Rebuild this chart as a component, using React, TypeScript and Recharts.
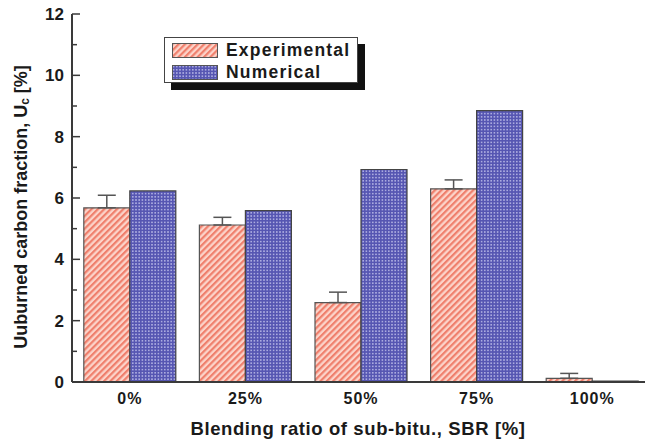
import { Bar, BarChart, ErrorBar, Legend, XAxis, YAxis } from "recharts";

const categories = ["0%", "25%", "50%", "75%", "100%"];
const experimental = [5.68, 5.12, 2.59, 6.3, 0.12];
const experimentalErr = [0.41, 0.25, 0.34, 0.29, 0.16];
const numerical = [6.23, 5.59, 6.93, 8.85, 0.03];
const yTicks = [0, 1, 2, 3, 4, 5, 6, 7, 8, 9, 10, 11, 12];

const data = categories.map((sbr, i) => ({
  sbr,
  exp: experimental[i],
  expErr: [0, experimentalErr[i]],
  num: numerical[i],
}));

const FONT = '"Liberation Sans", Arial, sans-serif';
const INK = "#3a3a3a";
const TEXT = "#1a1a1a";

function YTick(props: any) {
  const { x, y, payload } = props;
  const v = Number(payload.value);
  const major = v % 2 === 0;
  const axisX = x + 8;
  return (
    <g>
      <line x1={axisX} x2={axisX + (major ? 8 : 5)} y1={y} y2={y} stroke={INK} strokeWidth={1.5} />
      {major && (
        <text x={x} y={y} dy="0.36em" textAnchor="end" fontFamily={FONT} fontWeight="bold" fontSize={17} fill={TEXT}>
          {v}
        </text>
      )}
    </g>
  );
}

function XTick(props: any) {
  const { x, y, payload } = props;
  return (
    <text x={x} y={y} dy="0.72em" textAnchor="middle" fontFamily={FONT} fontWeight="bold" fontSize={16} letterSpacing={1} fill={TEXT}>
      {payload.value}
    </text>
  );
}

function YTitle(props: any) {
  const vb = props.viewBox ?? { x: 0, y: 14, width: 72, height: 368 };
  const cx = vb.x + 21;
  const cy = vb.y + vb.height / 2 + 9;
  return (
    <text
      x={cx}
      y={cy}
      transform={`rotate(-90 ${cx} ${cy})`}
      textAnchor="middle"
      dominantBaseline="central"
      fontFamily={FONT}
      fontWeight="bold"
      fontSize={18}
      fill={TEXT}
    >
      Uuburned carbon fraction, U
      <tspan dy={4} fontSize={12}>c</tspan>
      <tspan dy={-4}> [%]</tspan>
    </text>
  );
}

function XTitle(props: any) {
  const vb = props.viewBox ?? { x: 72, y: 382, width: 578, height: 59 };
  return (
    <text
      x={vb.x + vb.width / 2 - 3}
      y={vb.y + 53}
      textAnchor="middle"
      fontFamily={FONT}
      fontWeight="bold"
      fontSize={18.5}
      letterSpacing={0.6}
      fill={TEXT}
    >
      Blending ratio of sub-bitu., SBR [%]
    </text>
  );
}

function LegendBox(props: any) {
  const items = props.payload ?? [];
  return (
    <div
      style={{
        width: 194,
        height: 46,
        boxSizing: "border-box",
        border: "1px solid #444",
        background: "#fff",
        boxShadow: "7px 7px 0 #111",
        position: "relative",
      }}
    >
      {items.map((it: any, i: number) => (
        <div key={it.value} style={{ position: "absolute", left: 7, top: 5 + i * 22, display: "flex", alignItems: "center" }}>
          <svg width={46} height={15} style={{ display: "block" }}>
            <rect x={0.5} y={0.5} width={45} height={14} fill={it.color} stroke="#555" strokeWidth={1} />
          </svg>
          <span
            style={{
              marginLeft: 8,
              fontFamily: FONT,
              fontWeight: "bold",
              fontSize: 17.5,
              letterSpacing: 1.2,
              color: TEXT,
              lineHeight: "15px",
            }}
          >
            {it.value}
          </span>
        </div>
      ))}
    </div>
  );
}

export default function App() {
  return (
    <div style={{ position: "fixed", left: 0, top: 0, width: 645, height: 441, overflow: "hidden", background: "#fff" }}>
      <BarChart
        width={660}
        height={441}
        data={data}
        margin={{ top: 14, right: 10, left: 0, bottom: 0 }}
        barCategoryGap={11.8}
        barGap={0}
      >
        <defs>
          <pattern id="hatch" width={4.5} height={4.5} patternUnits="userSpaceOnUse" patternTransform="rotate(45)">
            <rect width={4.5} height={4.5} fill="#fcd4ca" />
            <rect width={2.2} height={4.5} fill="#ef7f6c" />
          </pattern>
          <pattern id="dots" width={3.2} height={3.2} patternUnits="userSpaceOnUse">
            <rect width={3.2} height={3.2} fill="#5656b2" />
            <circle cx={1.6} cy={1.6} r={0.8} fill="#c8c8ee" />
          </pattern>
        </defs>
        <XAxis
          dataKey="sbr"
          height={59}
          tickLine={false}
          tickSize={0}
          tickMargin={10}
          axisLine={{ stroke: INK, strokeWidth: 2 }}
          tick={<XTick />}
          label={<XTitle />}
        />
        <XAxis
          xAxisId="top"
          dataKey="sbr"
          orientation="top"
          height={0}
          tick={false}
          tickLine={false}
          axisLine={{ stroke: INK, strokeWidth: 2 }}
        />
        <YAxis
          width={72}
          domain={[0, 12]}
          ticks={yTicks}
          interval={0}
          tickSize={0}
          tickMargin={8}
          tickLine={false}
          axisLine={{ stroke: INK, strokeWidth: 2 }}
          tick={<YTick />}
          label={<YTitle />}
        />
        <Legend
          layout="horizontal"
          align="center"
          verticalAlign="middle"
          content={<LegendBox />}
          wrapperStyle={{ left: 164, top: 37, width: 200, height: 60 }}
        />
        <Bar dataKey="exp" name="Experimental" fill="url(#hatch)" stroke="#555" strokeWidth={1.2} isAnimationActive={false}>
          <ErrorBar dataKey="expErr" direction="y" width={9} stroke="#555" strokeWidth={1.5} />
        </Bar>
        <Bar dataKey="num" name="Numerical" fill="url(#dots)" stroke="#444" strokeWidth={1.2} isAnimationActive={false} />
      </BarChart>
    </div>
  );
}
